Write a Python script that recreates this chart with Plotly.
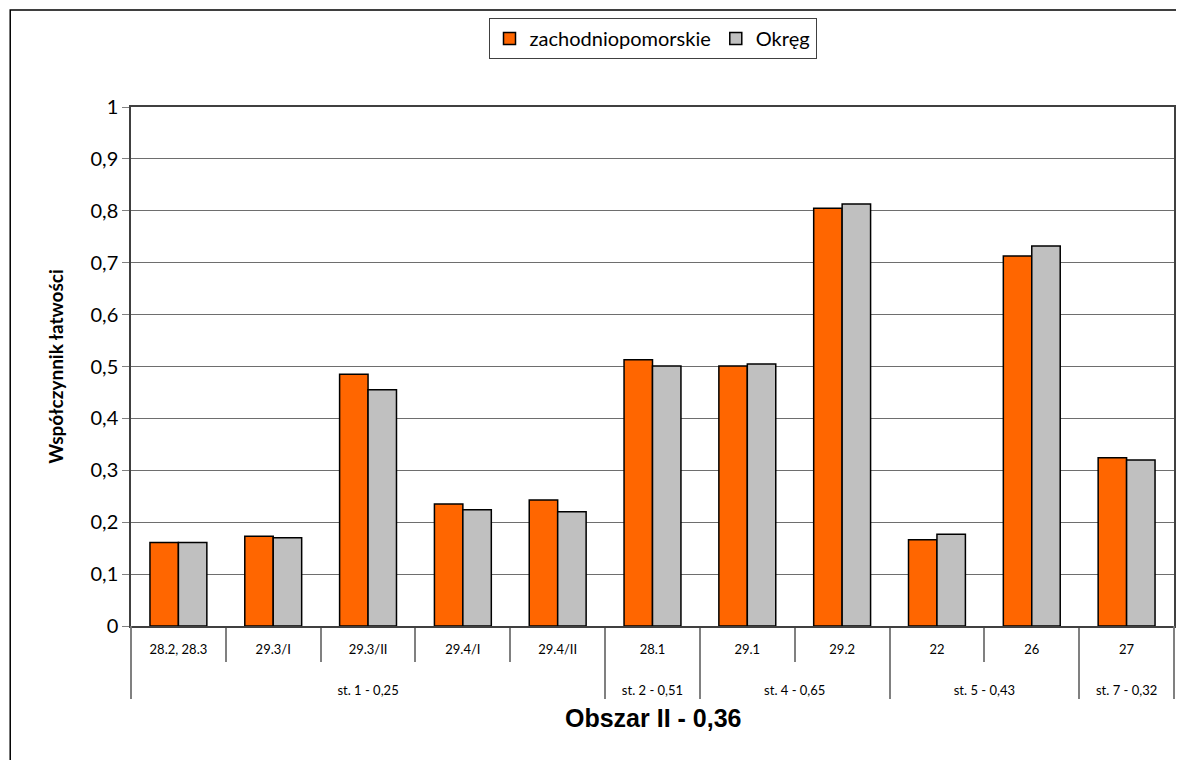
import plotly.graph_objects as go

# ---------------------------------------------------------------------------
# Data
# ---------------------------------------------------------------------------

GROUPS = [
    "st. 1 - 0,25", "st. 1 - 0,25", "st. 1 - 0,25", "st. 1 - 0,25", "st. 1 - 0,25",
    "st. 2 - 0,51",
    "st. 4 - 0,65", "st. 4 - 0,65",
    "st. 5 - 0,43", "st. 5 - 0,43",
    "st. 7 - 0,32",
]
TASKS = ["28.2, 28.3", "29.3/I", "29.3/II", "29.4/I", "29.4/II",
         "28.1", "29.1", "29.2", "22", "26", "27"]

ZACHODNIOPOMORSKIE = [0.161, 0.173, 0.485, 0.235, 0.243,
                      0.513, 0.501, 0.805, 0.166, 0.713, 0.324]
OKREG = [0.161, 0.170, 0.455, 0.224, 0.220,
         0.501, 0.505, 0.813, 0.177, 0.732, 0.320]

SERIES_NAMES = ["zachodniopomorskie", "Okręg"]
X_TITLE = "Obszar II - 0,36"
Y_TITLE = "Współczynnik łatwości"

# ---------------------------------------------------------------------------
# Style
# ---------------------------------------------------------------------------

ORANGE = "#FF6600"
GREY = "#C0C0C0"
AXIS_GREY = "#808080"
LABEL_FONT = "Lato, Carlito, Calibri, sans-serif"

# group labels pushed down, like the second row in the source chart
group_labels = ["<br><br>" + g for g in GROUPS]

fig = go.Figure()

for name, values, color in [(SERIES_NAMES[0], ZACHODNIOPOMORSKIE, ORANGE),
                            (SERIES_NAMES[1], OKREG, GREY)]:
    fig.add_trace(go.Bar(
        name=name,
        x=[group_labels, TASKS],
        y=values,
        marker=dict(color=color, line=dict(color="black", width=1.5)),
    ))

# page body has an 8px margin, so the figure is sized/offset to compensate
fig.update_layout(
    width=1176,
    height=752,
    margin=dict(l=123, r=8, t=99, b=134),
    paper_bgcolor="white",
    plot_bgcolor="white",
    separators=", ",
    barmode="group",
    bargap=0.4,
    bargroupgap=0,
    font=dict(family=LABEL_FONT, color="black"),
    showlegend=True,
    legend=dict(
        orientation="h",
        x=0.5, xanchor="center",
        y=1.1715, yanchor="top",
        bordercolor="#404040", borderwidth=1,
        font=dict(family=LABEL_FONT, size=20),
        itemwidth=30,
        traceorder="normal",
    ),
    xaxis=dict(
        type="multicategory",
        showline=True, linecolor="#404040", linewidth=1.5,
        mirror=True,
        ticks="outside", ticklen=34, tickcolor=AXIS_GREY, tickwidth=1.5,
        ticklabelstandoff=11,
        showdividers=True, dividercolor=AXIS_GREY, dividerwidth=1.5,
        tickfont=dict(family=LABEL_FONT, size=13),
        showgrid=False,
    ),
    yaxis=dict(
        range=[0, 1],
        dtick=0.1,
        showgrid=True, gridcolor="#6e6e6e", gridwidth=1,
        showline=True, linecolor="#404040", linewidth=1.5,
        mirror=True,
        ticks="outside", ticklen=7, tickcolor=AXIS_GREY,
        tickfont=dict(family=LABEL_FONT, size=20),
        zeroline=False,
    ),
)

# Axis titles placed as in the source chart
fig.add_annotation(
    text=f"<b>{X_TITLE}</b>",
    xref="paper", yref="paper",
    x=0.5, y=-0.177, xanchor="center", yanchor="middle",
    showarrow=False,
    font=dict(family="Liberation Sans, Arial, sans-serif", size=25, color="black"),
)
fig.add_annotation(
    text=f"<b>{Y_TITLE}</b>",
    xref="paper", yref="paper",
    x=-0.0727, y=0.5, xanchor="center", yanchor="middle",
    textangle=-90,
    showarrow=False,
    font=dict(family=LABEL_FONT, size=19, color="black"),
)

# outer edges of the two-level category axis
for edge in (0, 1):
    fig.add_shape(
        type="line", xref="paper", yref="paper",
        x0=edge, x1=edge, y0=0, y1=-0.14,
        line=dict(color=AXIS_GREY, width=1.5),
    )

# Outer chart frame (partly cropped at the right and bottom in the source)
fig.add_shape(
    type="rect", xref="paper", yref="paper",
    x0=-0.1158, x1=1.2, y0=-0.4, y1=1.1869,
    line=dict(color="black", width=1.5),
    layer="below",
)

fig.write_html("out.html")
